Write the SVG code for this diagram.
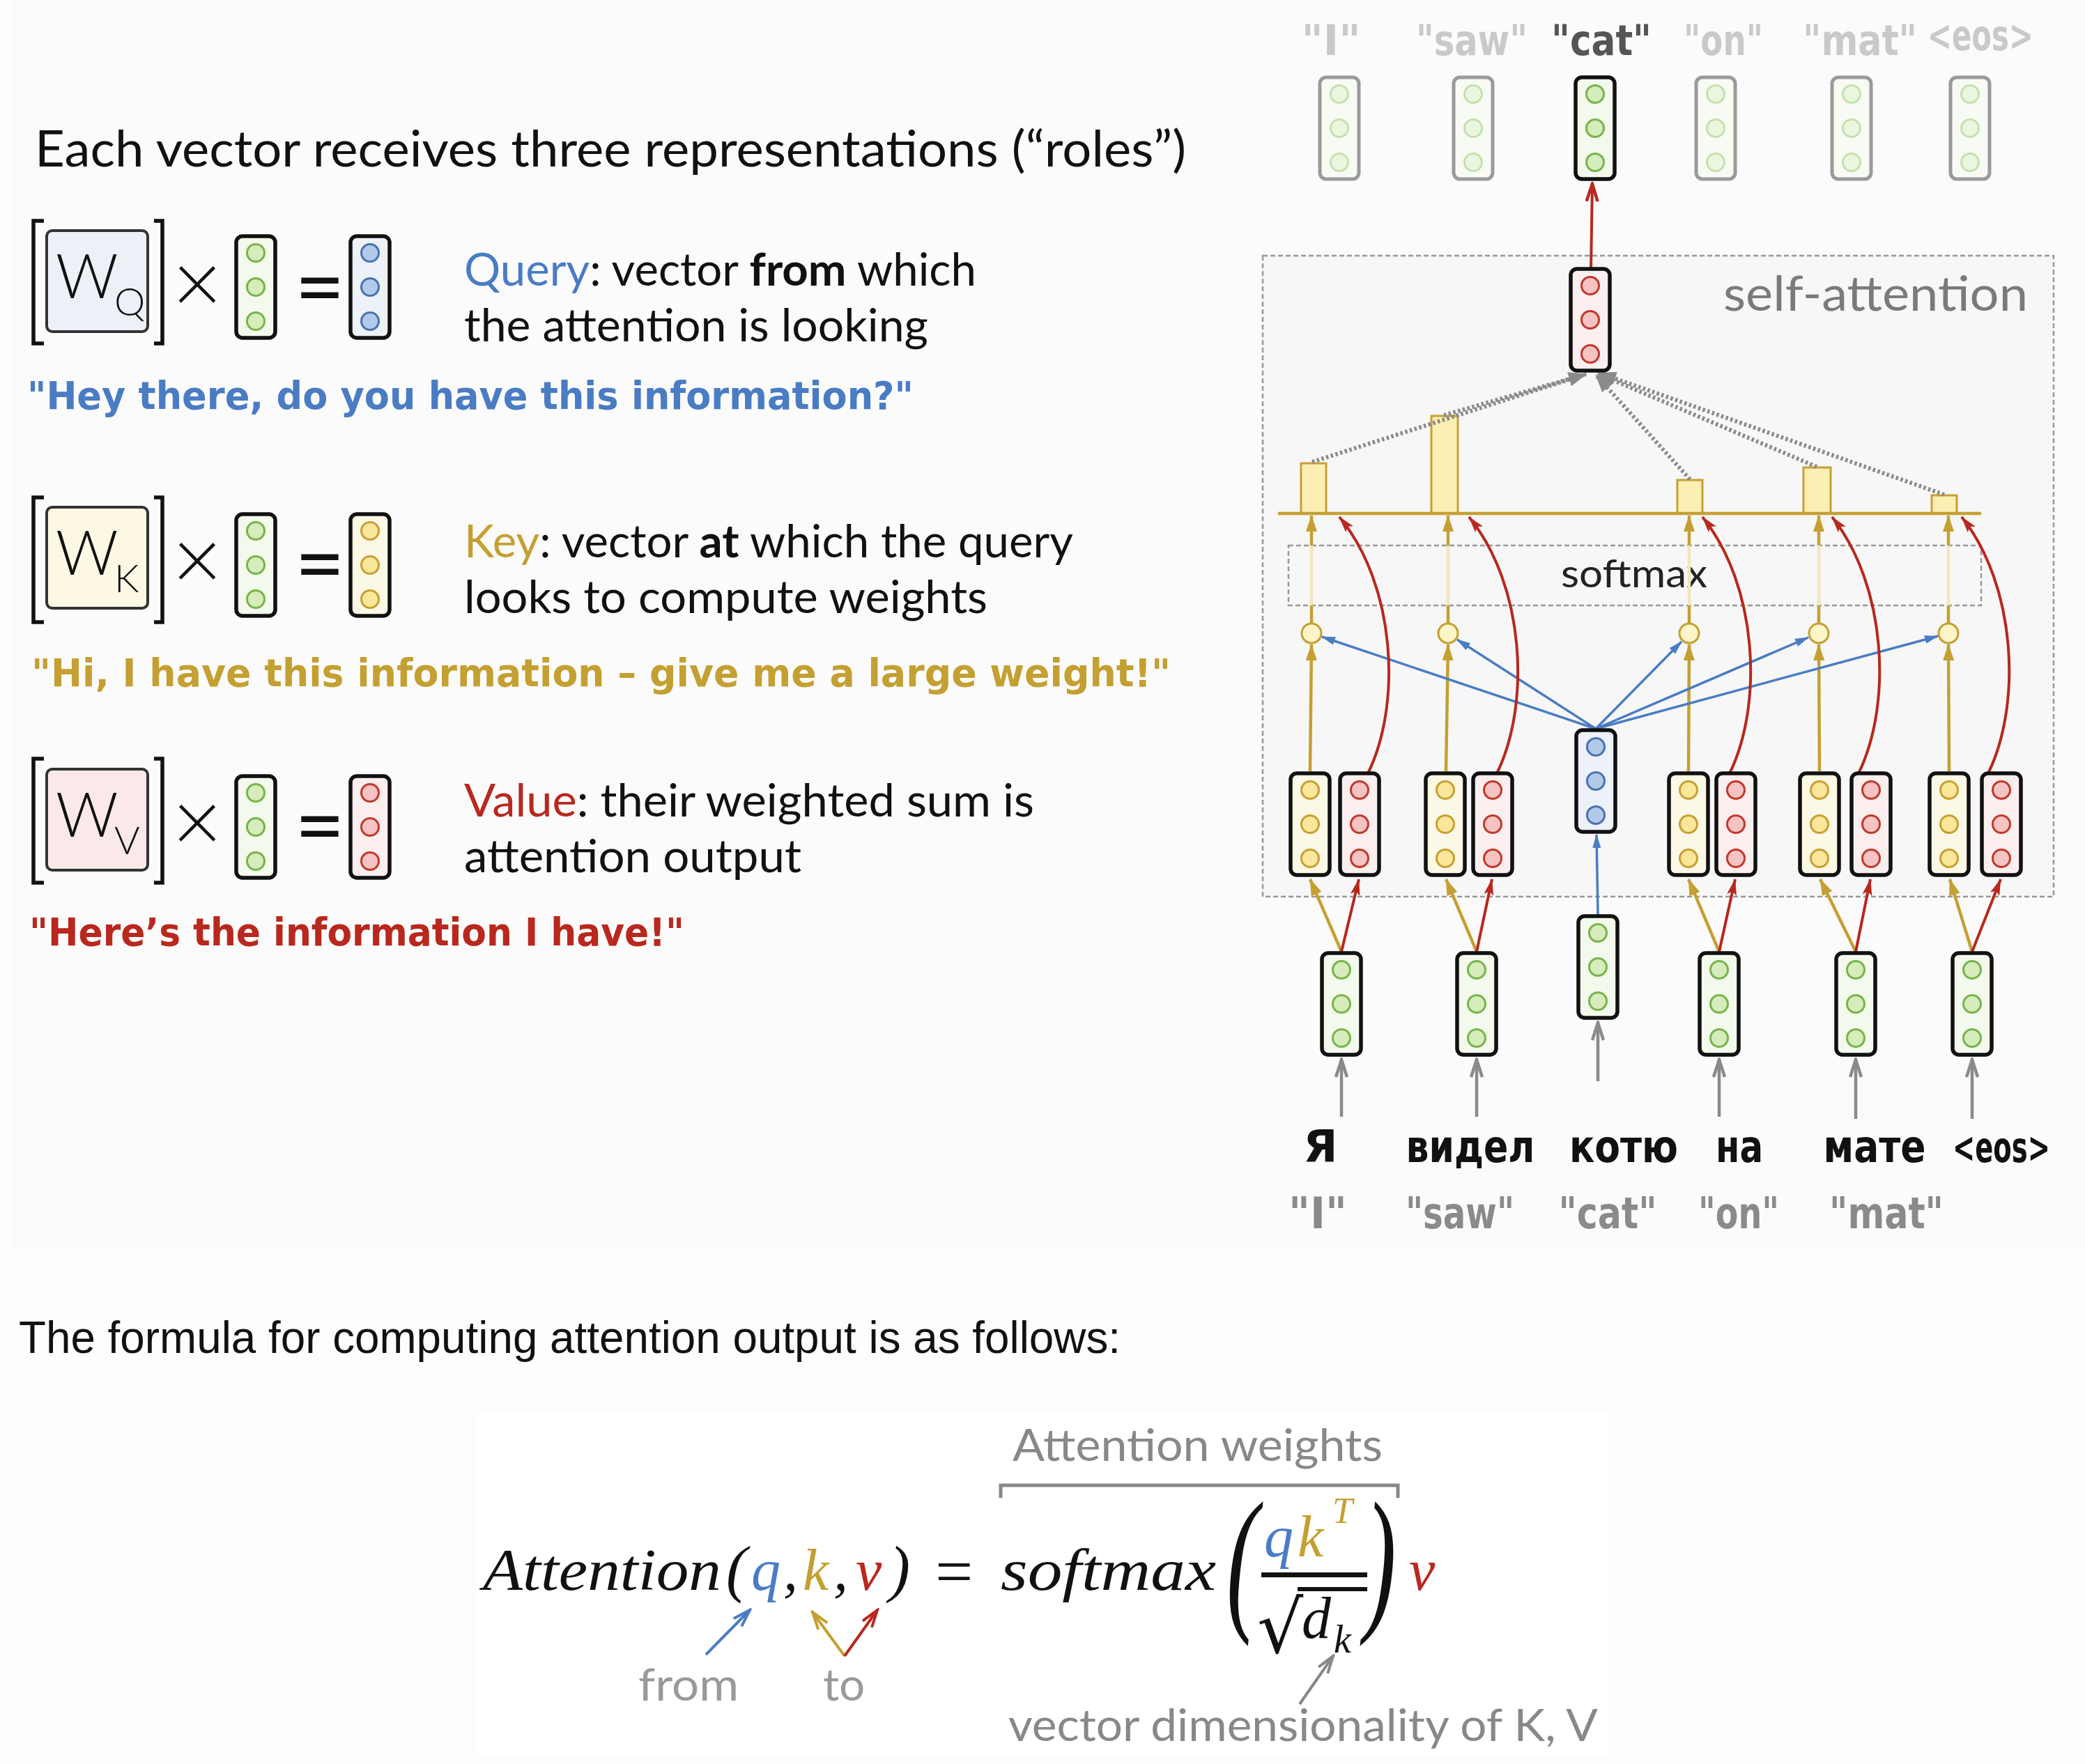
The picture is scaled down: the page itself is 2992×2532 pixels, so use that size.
<svg xmlns="http://www.w3.org/2000/svg" xmlns:xlink="http://www.w3.org/1999/xlink" width="2992" height="2532" viewBox="0 0 2992 2532">
<style>
.sans{font-family:Lato,"Open Sans","Liberation Sans",sans-serif}
.arial{font-family:"Liberation Sans",Arial,sans-serif}
.comic{font-family:"DejaVu Sans","Liberation Sans",sans-serif;font-weight:bold}
.math{font-family:"Liberation Serif","DejaVu Serif",serif;font-style:italic}
.vr{stroke:#111;stroke-width:5.5}
.vf{stroke:#9a9a9a;stroke-width:5}
.cG{fill:#d6ecbc;stroke:#78b44a;stroke-width:3}
.cGf{fill:#ebf6e0;stroke:#c4e2ac;stroke-width:3}
.cB{fill:#b2c9e8;stroke:#4a72b0;stroke-width:3}
.cY{fill:#fae79c;stroke:#c8a032;stroke-width:3}
.cR{fill:#f6c3c3;stroke:#c0392b;stroke-width:3}
.gold{stroke:#c4a032;stroke-width:4.5;fill:none}
.goldpale{stroke:#f1e6bd;stroke-width:4.5;fill:none}
.red{stroke:#b8281e;stroke-width:4;fill:none}
.blue{stroke:#4a7cc4;stroke-width:3.5;fill:none}
.grayA{stroke:#8a8a8a;stroke-width:4.5;fill:none}
.dot{stroke:#8a8a8a;stroke-width:6;fill:none;stroke-dasharray:3.5 3.5}
.bar{fill:#fbefb4;stroke:#c8a032;stroke-width:3}
.lt{font-weight:300}
</style>
<defs>
<marker id="mGold" viewBox="0 0 24 16" refX="23" refY="8" markerWidth="24" markerHeight="16" markerUnits="userSpaceOnUse" orient="auto"><path d="M0,0 L24,8 L0,16 z" fill="#c4a032"/></marker>
<marker id="mRed" viewBox="0 0 24 14" refX="23" refY="7" markerWidth="24" markerHeight="14" markerUnits="userSpaceOnUse" orient="auto"><path d="M0,0 L24,7 L0,14 L5,7 z" fill="#b8281e"/></marker>
<marker id="mBlue" viewBox="0 0 20 12" refX="19" refY="6" markerWidth="20" markerHeight="12" markerUnits="userSpaceOnUse" orient="auto"><path d="M0,0 L20,6 L0,12 z" fill="#4a7cc4"/></marker>
<marker id="mGray" viewBox="-2 -2 30 20" refX="25" refY="8" markerWidth="30" markerHeight="20" markerUnits="userSpaceOnUse" orient="auto"><path d="M0,0 L25,8 L0,16" fill="none" stroke="#8a8a8a" stroke-width="4.5"/></marker>
<marker id="mDot" viewBox="0 0 26 20" refX="25" refY="10" markerWidth="26" markerHeight="20" markerUnits="userSpaceOnUse" orient="auto"><path d="M0,0 L26,10 L0,20 z" fill="#8a8a8a"/></marker>
<marker id="mRedOpen" viewBox="-2 -2 30 20" refX="25" refY="8" markerWidth="30" markerHeight="20" markerUnits="userSpaceOnUse" orient="auto"><path d="M0,0 L25,8 L0,16" fill="none" stroke="#b8281e" stroke-width="4.5"/></marker>
<marker id="fBlue" viewBox="-2 -2 30 20" refX="25" refY="8" markerWidth="30" markerHeight="20" markerUnits="userSpaceOnUse" orient="auto"><path d="M0,0 L25,8 L0,16" fill="none" stroke="#4a7cc4" stroke-width="4"/></marker>
<marker id="fGold" viewBox="-2 -2 30 20" refX="25" refY="8" markerWidth="30" markerHeight="20" markerUnits="userSpaceOnUse" orient="auto"><path d="M0,0 L25,8 L0,16" fill="none" stroke="#c4a032" stroke-width="4"/></marker>
<marker id="fRed" viewBox="-2 -2 30 20" refX="25" refY="8" markerWidth="30" markerHeight="20" markerUnits="userSpaceOnUse" orient="auto"><path d="M0,0 L25,8 L0,16" fill="none" stroke="#b8281e" stroke-width="4"/></marker>
<marker id="fGray" viewBox="-2 -2 30 20" refX="25" refY="8" markerWidth="30" markerHeight="20" markerUnits="userSpaceOnUse" orient="auto"><path d="M0,0 L25,8 L0,16" fill="none" stroke="#888" stroke-width="4"/></marker>
<g id="vG"><rect class="vr" x="0" y="0" width="56" height="146" rx="9" fill="#f3f9ec"/><circle class="cG" cx="28" cy="24" r="12.5"/><circle class="cG" cx="28" cy="73" r="12.5"/><circle class="cG" cx="28" cy="122" r="12.5"/></g>
<g id="vF"><rect class="vf" x="0" y="0" width="56" height="146" rx="9" fill="#f8fbf4"/><circle class="cGf" cx="28" cy="24" r="12.5"/><circle class="cGf" cx="28" cy="73" r="12.5"/><circle class="cGf" cx="28" cy="122" r="12.5"/></g>
<g id="vB"><rect class="vr" x="0" y="0" width="56" height="146" rx="9" fill="#edf1f8"/><circle class="cB" cx="28" cy="24" r="12.5"/><circle class="cB" cx="28" cy="73" r="12.5"/><circle class="cB" cx="28" cy="122" r="12.5"/></g>
<g id="vY"><rect class="vr" x="0" y="0" width="56" height="146" rx="9" fill="#fcf8e6"/><circle class="cY" cx="28" cy="24" r="12.5"/><circle class="cY" cx="28" cy="73" r="12.5"/><circle class="cY" cx="28" cy="122" r="12.5"/></g>
<g id="vR"><rect class="vr" x="0" y="0" width="56" height="146" rx="9" fill="#fbeeee"/><circle class="cR" cx="28" cy="24" r="12.5"/><circle class="cR" cx="28" cy="73" r="12.5"/><circle class="cR" cx="28" cy="122" r="12.5"/></g>
</defs>

<!-- backgrounds -->
<rect x="0" y="0" width="2992" height="2532" fill="#fdfdfd"/>
<rect x="16" y="0" width="2976" height="1792" fill="#fbfbfb"/>
<rect x="683" y="2028" width="1626" height="494" fill="#ffffff"/>

<!-- title -->
<text id="title" class="sans" x="50" y="239" font-size="72" fill="#111" textLength="1652" lengthAdjust="spacingAndGlyphs">Each vector receives three representations (“roles”)</text>

<!-- Query row -->
<g id="query-row">
<path d="M63,317 H48 V493 H63 M221,317 H233 V493 H221" fill="none" stroke="#111" stroke-width="5.5"/>
<rect x="67" y="331" width="145" height="145" rx="8" fill="#ecf1f8" stroke="#333" stroke-width="4"/>
<text class="sans lt" x="80" y="428" font-size="88" fill="#111">W</text>
<text class="sans lt" x="164" y="453" font-size="56" fill="#111">Q</text>
<text class="sans lt" x="283" y="450" font-size="124" fill="#111" text-anchor="middle">×</text>
<use href="#vG" x="339" y="339"/>
<text class="sans" x="459" y="455" font-size="124" fill="#111" text-anchor="middle">=</text>
<use href="#vB" x="503" y="339"/>
<text class="sans" x="666" y="410" font-size="65" fill="#111" textLength="735" lengthAdjust="spacingAndGlyphs"><tspan fill="#4a7cc4">Query</tspan>: vector <tspan font-weight="bold">from</tspan> which</text>
<text class="sans" x="666" y="490" font-size="65" fill="#111" textLength="666" lengthAdjust="spacingAndGlyphs">the attention is looking</text>
<text class="comic" x="39" y="587" font-size="56" fill="#4a7cc4" textLength="1272" lengthAdjust="spacingAndGlyphs">"Hey there, do you have this information?"</text>
</g>

<!-- Key row -->
<g id="key-row">
<path d="M63,714 H48 V893 H63 M221,714 H233 V893 H221" fill="none" stroke="#111" stroke-width="5.5"/>
<rect x="67" y="728" width="145" height="145" rx="8" fill="#fcf8e4" stroke="#333" stroke-width="4"/>
<text class="sans lt" x="80" y="825" font-size="88" fill="#111">W</text>
<text class="sans lt" x="164" y="850" font-size="56" fill="#111">K</text>
<text class="sans lt" x="283" y="847" font-size="124" fill="#111" text-anchor="middle">×</text>
<use href="#vG" x="339" y="738"/>
<text class="sans" x="459" y="852" font-size="124" fill="#111" text-anchor="middle">=</text>
<use href="#vY" x="503" y="738"/>
<text class="sans" x="666" y="800" font-size="65" fill="#111" textLength="874" lengthAdjust="spacingAndGlyphs"><tspan fill="#c4a032">Key</tspan>: vector <tspan font-weight="bold">at</tspan> which the query</text>
<text class="sans" x="666" y="880" font-size="65" fill="#111" textLength="751" lengthAdjust="spacingAndGlyphs">looks to compute weights</text>
<text class="comic" x="45" y="985" font-size="56" fill="#c4a032" textLength="1635" lengthAdjust="spacingAndGlyphs">"Hi, I have this information – give me a large weight!"</text>
</g>

<!-- Value row -->
<g id="value-row">
<path d="M63,1089 H48 V1267 H63 M221,1089 H233 V1267 H221" fill="none" stroke="#111" stroke-width="5.5"/>
<rect x="67" y="1104" width="145" height="145" rx="8" fill="#fbe9e9" stroke="#333" stroke-width="4"/>
<text class="sans lt" x="80" y="1201" font-size="88" fill="#111">W</text>
<text class="sans lt" x="164" y="1226" font-size="56" fill="#111">V</text>
<text class="sans lt" x="283" y="1223" font-size="124" fill="#111" text-anchor="middle">×</text>
<use href="#vG" x="339" y="1114"/>
<text class="sans" x="459" y="1228" font-size="124" fill="#111" text-anchor="middle">=</text>
<use href="#vR" x="503" y="1114"/>
<text class="sans" x="666" y="1172" font-size="65" fill="#111" textLength="818" lengthAdjust="spacingAndGlyphs"><tspan fill="#b8281e">Value</tspan>: their weighted sum is</text>
<text class="sans" x="666" y="1252" font-size="65" fill="#111" textLength="484" lengthAdjust="spacingAndGlyphs">attention output</text>
<text class="comic" x="42" y="1357" font-size="56" fill="#b8281e" textLength="940" lengthAdjust="spacingAndGlyphs">"Here’s the information I have!"</text>
</g>

<!-- self-attention box -->
<g id="self-attention">
<rect x="1812" y="367" width="1135" height="920" fill="#f7f7f7" stroke="#999" stroke-width="2.5" stroke-dasharray="7 4"/>
<text class="sans" x="2473" y="446" font-size="70" fill="#7a7a7a" textLength="437" lengthAdjust="spacingAndGlyphs">self-attention</text>
</g>
<g id="softmax">
<rect x="1849" y="783" width="994" height="86" fill="none" stroke="#999" stroke-width="2.5" stroke-dasharray="7 4"/>
<text class="sans" x="2240" y="843" font-size="56" fill="#222" textLength="210" lengthAdjust="spacingAndGlyphs">softmax</text>
</g>

<!-- bars -->
<g id="weights">
<rect class="bar" x="1867" y="665" width="36" height="72"/>
<rect class="bar" x="2054" y="597" width="38" height="140"/>
<rect class="bar" x="2407" y="689" width="36" height="48"/>
<rect class="bar" x="2588" y="671" width="39" height="66"/>
<rect class="bar" x="2772" y="711" width="36" height="26"/>
<line x1="1834" y1="737" x2="2843" y2="737" stroke="#c4a032" stroke-width="4.5"/>
</g>

<!-- connectors -->
<g id="connectors">
<line class="dot" x1="1883" y1="663" x2="2276" y2="537" marker-end="url(#mDot)"/>
<line class="dot" x1="2072" y1="596" x2="2276" y2="537" marker-end="url(#mDot)"/>
<line class="dot" x1="2425" y1="688" x2="2290" y2="538" marker-end="url(#mDot)"/>
<line class="dot" x1="2607" y1="670" x2="2292" y2="536" marker-end="url(#mDot)"/>
<line class="dot" x1="2790" y1="710" x2="2294" y2="535" marker-end="url(#mDot)"/>
<line class="red" x1="2283" y1="386" x2="2285" y2="264" marker-end="url(#mRedOpen)"/>
<line class="gold" x1="1882" y1="895" x2="1882" y2="869"/><line class="goldpale" x1="1882" y1="869" x2="1882" y2="783"/><line class="gold" x1="1882" y1="783" x2="1882" y2="740" marker-end="url(#mGold)"/>
<line class="gold" x1="2078" y1="895" x2="2078" y2="869"/><line class="goldpale" x1="2078" y1="869" x2="2078" y2="783"/><line class="gold" x1="2078" y1="783" x2="2078" y2="740" marker-end="url(#mGold)"/>
<line class="gold" x1="2424" y1="895" x2="2424" y2="869"/><line class="goldpale" x1="2424" y1="869" x2="2424" y2="783"/><line class="gold" x1="2424" y1="783" x2="2424" y2="740" marker-end="url(#mGold)"/>
<line class="gold" x1="2610" y1="895" x2="2610" y2="869"/><line class="goldpale" x1="2610" y1="869" x2="2610" y2="783"/><line class="gold" x1="2610" y1="783" x2="2610" y2="740" marker-end="url(#mGold)"/>
<line class="gold" x1="2796" y1="895" x2="2796" y2="869"/><line class="goldpale" x1="2796" y1="869" x2="2796" y2="783"/><line class="gold" x1="2796" y1="783" x2="2796" y2="740" marker-end="url(#mGold)"/>
<line class="gold" x1="1880" y1="1107" x2="1882" y2="925" marker-end="url(#mGold)"/>
<line class="gold" x1="2075" y1="1107" x2="2078" y2="925" marker-end="url(#mGold)"/>
<line class="gold" x1="2423" y1="1107" x2="2424" y2="925" marker-end="url(#mGold)"/>
<line class="gold" x1="2611" y1="1107" x2="2610" y2="925" marker-end="url(#mGold)"/>
<line class="gold" x1="2797" y1="1107" x2="2796" y2="925" marker-end="url(#mGold)"/>
<line class="blue" x1="2290" y1="1046" x2="1897" y2="914" marker-end="url(#mBlue)"/>
<line class="blue" x1="2290" y1="1046" x2="2091" y2="918" marker-end="url(#mBlue)"/>
<line class="blue" x1="2290" y1="1046" x2="2413" y2="921" marker-end="url(#mBlue)"/>
<line class="blue" x1="2290" y1="1046" x2="2595" y2="915" marker-end="url(#mBlue)"/>
<line class="blue" x1="2290" y1="1046" x2="2781" y2="913" marker-end="url(#mBlue)"/>
<path class="red" d="M1963,1110 C2012,1010 2003,840 1922,742" marker-end="url(#mRed)"/>
<path class="red" d="M2148,1110 C2197,1010 2188,840 2108,742" marker-end="url(#mRed)"/>
<path class="red" d="M2482,1110 C2531,1010 2522,840 2443,742" marker-end="url(#mRed)"/>
<path class="red" d="M2667,1110 C2716,1010 2707,840 2629,742" marker-end="url(#mRed)"/>
<path class="red" d="M2853,1110 C2902,1010 2893,840 2815,742" marker-end="url(#mRed)"/>
<line class="gold" x1="1925" y1="1366" x2="1880" y2="1262" marker-end="url(#mGold)"/>
<line class="red" x1="1925" y1="1366" x2="1950" y2="1262" marker-end="url(#mRed)"/>
<line class="gold" x1="2119" y1="1366" x2="2075" y2="1262" marker-end="url(#mGold)"/>
<line class="red" x1="2119" y1="1366" x2="2141" y2="1262" marker-end="url(#mRed)"/>
<line class="gold" x1="2467" y1="1366" x2="2423" y2="1262" marker-end="url(#mGold)"/>
<line class="red" x1="2467" y1="1366" x2="2490" y2="1262" marker-end="url(#mRed)"/>
<line class="gold" x1="2663" y1="1366" x2="2612" y2="1262" marker-end="url(#mGold)"/>
<line class="red" x1="2663" y1="1366" x2="2684" y2="1262" marker-end="url(#mRed)"/>
<line class="gold" x1="2830" y1="1366" x2="2798" y2="1262" marker-end="url(#mGold)"/>
<line class="red" x1="2830" y1="1366" x2="2871" y2="1262" marker-end="url(#mRed)"/>
<line class="blue" x1="2293" y1="1313" x2="2291" y2="1198" stroke-width="4.5" marker-end="url(#mBlue)"/>
<line class="grayA" x1="1925" y1="1603" x2="1925" y2="1521" marker-end="url(#mGray)"/>
<line class="grayA" x1="2119" y1="1603" x2="2119" y2="1521" marker-end="url(#mGray)"/>
<line class="grayA" x1="2293" y1="1552" x2="2293" y2="1468" marker-end="url(#mGray)"/>
<line class="grayA" x1="2467" y1="1603" x2="2467" y2="1521" marker-end="url(#mGray)"/>
<line class="grayA" x1="2663" y1="1606" x2="2663" y2="1521" marker-end="url(#mGray)"/>
<line class="grayA" x1="2830" y1="1606" x2="2830" y2="1521" marker-end="url(#mGray)"/>
</g>

<g id="scores">
<circle cx="1882" cy="909" r="14" fill="#fdf4c8" stroke="#c4a032" stroke-width="3"/>
<circle cx="2078" cy="909" r="14" fill="#fdf4c8" stroke="#c4a032" stroke-width="3"/>
<circle cx="2424" cy="909" r="14" fill="#fdf4c8" stroke="#c4a032" stroke-width="3"/>
<circle cx="2610" cy="909" r="14" fill="#fdf4c8" stroke="#c4a032" stroke-width="3"/>
<circle cx="2796" cy="909" r="14" fill="#fdf4c8" stroke="#c4a032" stroke-width="3"/>
</g>

<g id="out-I"><use href="#vF" x="1894" y="111"/></g>
<g id="out-saw"><use href="#vF" x="2086" y="111"/></g>
<g id="out-cat"><use href="#vG" x="2261" y="111"/></g>
<g id="out-on"><use href="#vF" x="2434" y="111"/></g>
<g id="out-mat"><use href="#vF" x="2629" y="111"/></g>
<g id="out-eos"><use href="#vF" x="2799" y="111"/></g>
<g id="out-labels" class="comic" font-size="60" text-anchor="middle" fill="#c9c9c9">
<text x="1910" y="79" textLength="85" lengthAdjust="spacingAndGlyphs">"I"</text>
<text x="2112" y="79" textLength="160" lengthAdjust="spacingAndGlyphs">"saw"</text>
<text x="2298" y="79" fill="#555" textLength="144" lengthAdjust="spacingAndGlyphs">"cat"</text>
<text x="2473" y="79" textLength="114" lengthAdjust="spacingAndGlyphs">"on"</text>
<text x="2669" y="79" textLength="164" lengthAdjust="spacingAndGlyphs">"mat"</text>
<text x="2842" y="72" textLength="152" lengthAdjust="spacingAndGlyphs">&lt;eos&gt;</text>
</g>

<g id="attn-out"><use href="#vR" x="2254" y="386"/></g>

<g id="kv-1"><use href="#vY" x="1852" y="1110"/><use href="#vR" x="1923" y="1110"/></g>
<g id="kv-2"><use href="#vY" x="2046" y="1110"/><use href="#vR" x="2114" y="1110"/></g>
<g id="query"><use href="#vB" x="2262" y="1048"/></g>
<g id="kv-3"><use href="#vY" x="2395" y="1110"/><use href="#vR" x="2463" y="1110"/></g>
<g id="kv-4"><use href="#vY" x="2583" y="1110"/><use href="#vR" x="2657" y="1110"/></g>
<g id="kv-5"><use href="#vY" x="2769" y="1110"/><use href="#vR" x="2844" y="1110"/></g>

<g id="in-1"><use href="#vG" x="1897" y="1368"/></g>
<g id="in-2"><use href="#vG" x="2091" y="1368"/></g>
<g id="in-3"><use href="#vG" x="2265" y="1315"/></g>
<g id="in-4"><use href="#vG" x="2439" y="1368"/></g>
<g id="in-5"><use href="#vG" x="2635" y="1368"/></g>
<g id="in-6"><use href="#vG" x="2802" y="1368"/></g>

<g id="ru-words" class="comic" font-size="64" fill="#111" text-anchor="middle">
<text x="1895" y="1668">Я</text>
<text x="2110" y="1668" textLength="185" lengthAdjust="spacingAndGlyphs">видел</text>
<text x="2330" y="1668" textLength="156" lengthAdjust="spacingAndGlyphs">котю</text>
<text x="2496" y="1668" textLength="68" lengthAdjust="spacingAndGlyphs">на</text>
<text x="2690" y="1668" textLength="147" lengthAdjust="spacingAndGlyphs">мате</text>
<text x="2872" y="1668" font-size="60" textLength="140" lengthAdjust="spacingAndGlyphs">&lt;eos&gt;</text>
</g>
<g id="en-words" class="comic" font-size="62" fill="#8a8a8a" text-anchor="middle">
<text x="1891" y="1763" textLength="84" lengthAdjust="spacingAndGlyphs">"I"</text>
<text x="2095" y="1763" textLength="156" lengthAdjust="spacingAndGlyphs">"saw"</text>
<text x="2307" y="1763" textLength="141" lengthAdjust="spacingAndGlyphs">"cat"</text>
<text x="2495" y="1763" textLength="116" lengthAdjust="spacingAndGlyphs">"on"</text>
<text x="2707" y="1763" textLength="164" lengthAdjust="spacingAndGlyphs">"mat"</text>
</g>

<text id="formula-intro" class="arial" x="27" y="1942" font-size="64" fill="#111" textLength="1581" lengthAdjust="spacingAndGlyphs">The formula for computing attention output is as follows:</text>

<g id="formula">
<text class="sans" x="1453" y="2097" font-size="64" fill="#888" textLength="531" lengthAdjust="spacingAndGlyphs">Attention weights</text>
<path d="M1436,2150 V2132 H2006 V2150" fill="none" stroke="#888" stroke-width="5"/>
<text class="math" x="693" y="2282" font-size="84" fill="#111" textLength="342" lengthAdjust="spacingAndGlyphs">Attention</text>
<text class="math" x="1042" y="2282" font-size="90" fill="#111" font-style="normal">(</text>
<text class="math" x="1078" y="2282" font-size="84" fill="#4a7cc4">q</text>
<text class="math" x="1124" y="2282" font-size="84" fill="#111">,</text>
<text class="math" x="1152" y="2282" font-size="84" fill="#c4a032">k</text>
<text class="math" x="1196" y="2282" font-size="84" fill="#111">,</text>
<text class="math" x="1228" y="2282" font-size="84" fill="#b8281e">v</text>
<text class="math" x="1276" y="2282" font-size="90" fill="#111" font-style="normal">)</text>
<text class="math" x="1336" y="2288" font-size="96" fill="#111" font-style="normal">=</text>
<text class="math" x="1436" y="2282" font-size="84" fill="#111" textLength="309" lengthAdjust="spacingAndGlyphs">softmax</text>
<text class="math" transform="translate(1760,2314) scale(0.6,1)" font-size="228" fill="#111" font-style="normal">(</text>
<text class="math" transform="translate(1958,2314) scale(0.6,1)" font-size="228" fill="#111" font-style="normal">)</text>
<text class="math" x="1814" y="2234" font-size="84" fill="#4a7cc4">q</text>
<text class="math" x="1862" y="2234" font-size="84" fill="#c4a032">k</text>
<text class="math" x="1912" y="2186" font-size="52" fill="#c4a032">T</text>
<rect x="1810" y="2257" width="152" height="7" fill="#111"/>
<text x="1804" y="2372" font-size="104" fill="#111" font-family="DejaVu Serif,serif">√</text>
<line x1="1862" y1="2281" x2="1962" y2="2281" stroke="#111" stroke-width="6"/>
<text class="math" x="1868" y="2351" font-size="84" fill="#111">d</text>
<text class="math" x="1914" y="2372" font-size="56" fill="#111">k</text>
<text class="math" x="2022" y="2282" font-size="84" fill="#b8281e">v</text>
<line x1="1013" y1="2375" x2="1076" y2="2311" stroke="#4a7cc4" stroke-width="4" marker-end="url(#fBlue)"/>
<line x1="1212" y1="2377" x2="1166" y2="2314" stroke="#c4a032" stroke-width="4" marker-end="url(#fGold)"/>
<line x1="1212" y1="2377" x2="1259" y2="2311" stroke="#b8281e" stroke-width="4" marker-end="url(#fRed)"/>
<line x1="1865" y1="2446" x2="1913" y2="2377" stroke="#888" stroke-width="4" marker-end="url(#fGray)"/>
<text class="sans" x="916" y="2441" font-size="64" fill="#999" textLength="144" lengthAdjust="spacingAndGlyphs">from</text>
<text class="sans" x="1181" y="2441" font-size="64" fill="#999" textLength="60" lengthAdjust="spacingAndGlyphs">to</text>
<text class="sans" x="1447" y="2499" font-size="64" fill="#888" textLength="846" lengthAdjust="spacingAndGlyphs">vector dimensionality of K, V</text>
</g>
</svg>
